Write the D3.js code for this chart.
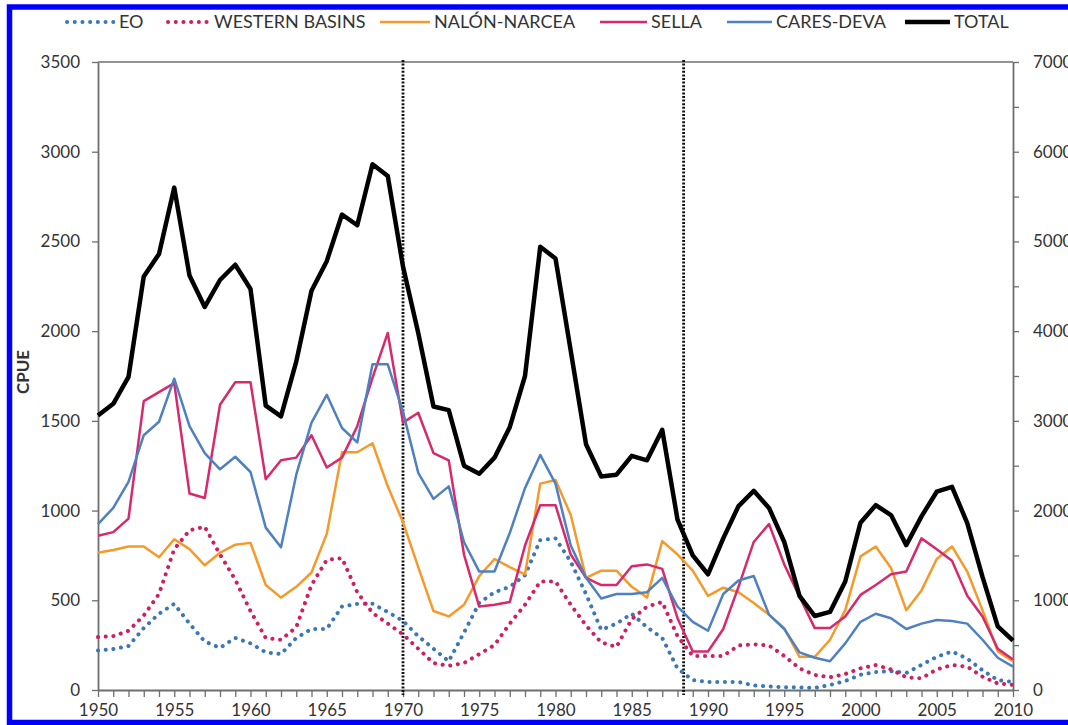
<!DOCTYPE html>
<html>
<head>
<meta charset="utf-8">
<script src="https://cdn.jsdelivr.net/npm/d3@7"></script>
<style>
  body { margin: 0; background: #fff; }
  text { font-family: Lato, "Open Sans", sans-serif; fill: #333; }
</style>
</head>
<body>
<script>
var years = d3.range(1950, 2011);

var eo = [220, 228, 245, 345, 425, 480, 370, 270, 235, 290,
  260, 210, 200, 290, 340, 340, 465, 480, 480, 435,
  385, 300, 230, 160, 320, 485, 545, 575, 640, 835,
  845, 715, 535, 335, 370, 425, 350, 290, 120, 55,
  45, 45, 45, 25, 20, 15, 15, 12, 28, 50,
  85, 100, 105, 95, 140, 185, 215, 175, 110, 55,
  45];

var westernBasins = [295, 300, 330, 415, 535, 785, 890, 910, 755, 615,
  440, 290, 280, 350, 585, 725, 735, 545, 430, 370,
  310, 230, 150, 135, 150, 200, 250, 370, 475, 605,
  605, 475, 360, 265, 240, 395, 465, 490, 300, 190,
  190, 190, 248, 255, 248, 190, 121, 84, 71, 89,
  121, 139, 115, 71, 65, 115, 139, 130, 74, 37,
  28];

var nalonNarcea = [765, 780, 800, 800, 740, 840, 785, 695, 765, 810,
  820, 585, 515, 575, 655, 870, 1325, 1325, 1375, 1135,
  935, 685, 440, 410, 475, 635, 730, 685, 645, 1150,
  1170, 975, 625, 665, 665, 575, 515, 830, 755, 665,
  525, 570, 545, 485, 420, 345, 185, 185, 280, 445,
  745, 800, 680, 445, 555, 730, 800, 660, 445, 215,
  160];

var sella = [860, 880, 955, 1610, 1660, 1710, 1095, 1070, 1590, 1715,
  1715, 1175, 1280, 1295, 1420, 1240, 1295, 1470, 1740, 1990,
  1490, 1545, 1320, 1280, 755, 465, 475, 490, 805, 1030,
  1030, 755, 625, 585, 585, 690, 700, 675, 400, 215,
  215, 340, 575, 825, 925, 700, 520, 345, 345, 410,
  530, 585, 645, 660, 845, 785, 720, 525, 410, 230,
  170];

var caresDeva = [925, 1015, 1160, 1420, 1495, 1735, 1470, 1320, 1230, 1300,
  1215, 905, 795, 1200, 1490, 1645, 1460, 1380, 1815, 1815,
  1550, 1210, 1065, 1135, 825, 660, 660, 875, 1125, 1310,
  1150, 805, 625, 510, 535, 535, 545, 625, 465, 380,
  330, 535, 610, 635, 420, 340, 210, 180, 160, 260,
  380, 425, 400, 340, 370, 390, 385, 370, 280, 180,
  130];

// plotted on the right axis
var total = [3060, 3190, 3490, 4610, 4860, 5600, 4620, 4270, 4570, 4740,
  4470, 3170, 3050, 3660, 4450, 4780, 5300, 5180, 5860, 5730,
  4720, 3980, 3160, 3120, 2500, 2410, 2590, 2930, 3500, 4940,
  4810, 3780, 2740, 2380, 2400, 2610, 2560, 2900, 1900, 1500,
  1290, 1690, 2050, 2220, 2030, 1650, 1050, 825, 870, 1210,
  1865, 2060, 1950, 1615, 1935, 2210, 2265, 1860, 1260, 710,
  550];

var seriesNames = ["EO", "WESTERN BASINS", "NALÓN-NARCEA", "SELLA", "CARES-DEVA", "TOTAL"];
var periodBreaks = [1970, 1988.4];
var leftTicks = d3.range(0, 3501, 500);
var rightTicks = d3.range(0, 7001, 500);
var yearLabels = d3.range(1950, 2011, 5);

var width = 1068;
var height = 725;
var plot = { left: 98, right: 1013, top: 62, bottom: 690 };

var styles = [
  { color: "#3b78b4", width: 4, dash: "0.1,7.6", cap: "round" },
  { color: "#cf1f62", width: 4, dash: "0.1,7.6", cap: "round" },
  { color: "#f59a2a", width: 2.5, dash: null, cap: "butt" },
  { color: "#d62a6c", width: 2.5, dash: null, cap: "butt" },
  { color: "#4f81c0", width: 2.5, dash: null, cap: "butt" },
  { color: "#000000", width: 4.5, dash: null, cap: "butt" }
];

var x = d3.scaleLinear().domain([1950, 2010]).range([plot.left, plot.right]);
var yLeft = d3.scaleLinear().domain([0, 3500]).range([plot.bottom, plot.top]);
var yRight = d3.scaleLinear().domain([0, 7000]).range([plot.bottom, plot.top]);

var svg = d3.select("body").append("svg")
  .attr("width", width)
  .attr("height", height);

svg.append("rect")
  .attr("width", width)
  .attr("height", height)
  .attr("fill", "#fff");

// top frame line of the plot area
svg.append("line")
  .attr("x1", plot.left).attr("x2", plot.right)
  .attr("y1", plot.top).attr("y2", plot.top)
  .attr("stroke", "#6e6e6e")
  .attr("stroke-width", 1.5);

var axisColor = "#6e6e6e";

function styleAxis(g) {
  g.selectAll(".domain").attr("stroke", axisColor).attr("stroke-width", 1.8);
  g.selectAll(".tick line").attr("stroke", axisColor).attr("stroke-width", 1.3);
  g.selectAll(".tick text")
    .attr("fill", "#333")
    .style("font-family", "Lato, 'Open Sans', sans-serif")
    .style("font-size", "17px");
}

svg.append("g")
  .attr("transform", "translate(" + plot.left + ",0)")
  .call(d3.axisLeft(yLeft).tickValues(leftTicks).tickSize(6).tickSizeOuter(0).tickPadding(12)
    .tickFormat(d3.format("d")))
  .call(styleAxis);

svg.append("g")
  .attr("transform", "translate(" + plot.right + ",0)")
  .call(d3.axisRight(yRight).tickValues(rightTicks).tickSize(6).tickSizeOuter(0).tickPadding(14)
    .tickFormat(function(d) { return d % 1000 === 0 ? d : ""; }))
  .call(styleAxis);

svg.append("g")
  .attr("transform", "translate(0," + plot.bottom + ")")
  .call(d3.axisBottom(x).tickValues(years).tickSize(7).tickSizeOuter(0).tickPadding(7)
    .tickFormat(function(d) { return yearLabels.indexOf(d) >= 0 ? d : ""; }))
  .call(styleAxis);

svg.append("text")
  .attr("transform", "translate(29,372) rotate(-90)")
  .attr("text-anchor", "middle")
  .style("font-size", "17px")
  .style("font-weight", "bold")
  .attr("fill", "#111")
  .text("CPUE");

// period break lines
svg.selectAll(".break")
  .data(periodBreaks)
  .enter().append("line")
  .attr("class", "break")
  .attr("x1", function(d) { return x(d); })
  .attr("x2", function(d) { return x(d); })
  .attr("y1", plot.top - 2)
  .attr("y2", plot.bottom + 5)
  .attr("stroke", "#111")
  .attr("stroke-width", 2.8)
  .attr("stroke-dasharray", "2,1.6");

var leftSeries = [eo, westernBasins, nalonNarcea, sella, caresDeva];

var lineLeft = d3.line()
  .x(function(d, i) { return x(years[i]); })
  .y(function(d) { return yLeft(d); });

var lineRight = d3.line()
  .x(function(d, i) { return x(years[i]); })
  .y(function(d) { return yRight(d); });

leftSeries.forEach(function(values, k) {
  var s = styles[k];
  svg.append("path")
    .datum(values)
    .attr("d", lineLeft)
    .attr("fill", "none")
    .attr("stroke", s.color)
    .attr("stroke-width", s.width)
    .attr("stroke-linecap", s.cap)
    .attr("stroke-linejoin", "round")
    .attr("stroke-dasharray", s.dash);
});

svg.append("path")
  .datum(total)
  .attr("d", lineRight)
  .attr("fill", "none")
  .attr("stroke", styles[5].color)
  .attr("stroke-width", styles[5].width)
  .attr("stroke-linejoin", "round");

// legend
var legendX = [67, 168, 380, 600, 727, 905];
var legendSample = [48, 42, 50, 47, 45, 45];
var legend = svg.append("g");
seriesNames.forEach(function(name, k) {
  var s = styles[k];
  var lx = legendX[k];
  legend.append("line")
    .attr("x1", lx).attr("x2", lx + legendSample[k])
    .attr("y1", 22).attr("y2", 22)
    .attr("stroke", s.color)
    .attr("stroke-width", s.width)
    .attr("stroke-linecap", s.cap)
    .attr("stroke-dasharray", s.dash);
  legend.append("text")
    .attr("x", lx + legendSample[k] + 4)
    .attr("y", 28)
    .style("font-size", "18px")
    .attr("fill", "#222")
    .text(name);
});

// outer blue frame
svg.append("rect")
  .attr("x", 9.5)
  .attr("y", 7)
  .attr("width", 1100)
  .attr("height", 715.5)
  .attr("fill", "none")
  .attr("stroke", "#0000ff")
  .attr("stroke-width", 5.5);
</script>
</body>
</html>
